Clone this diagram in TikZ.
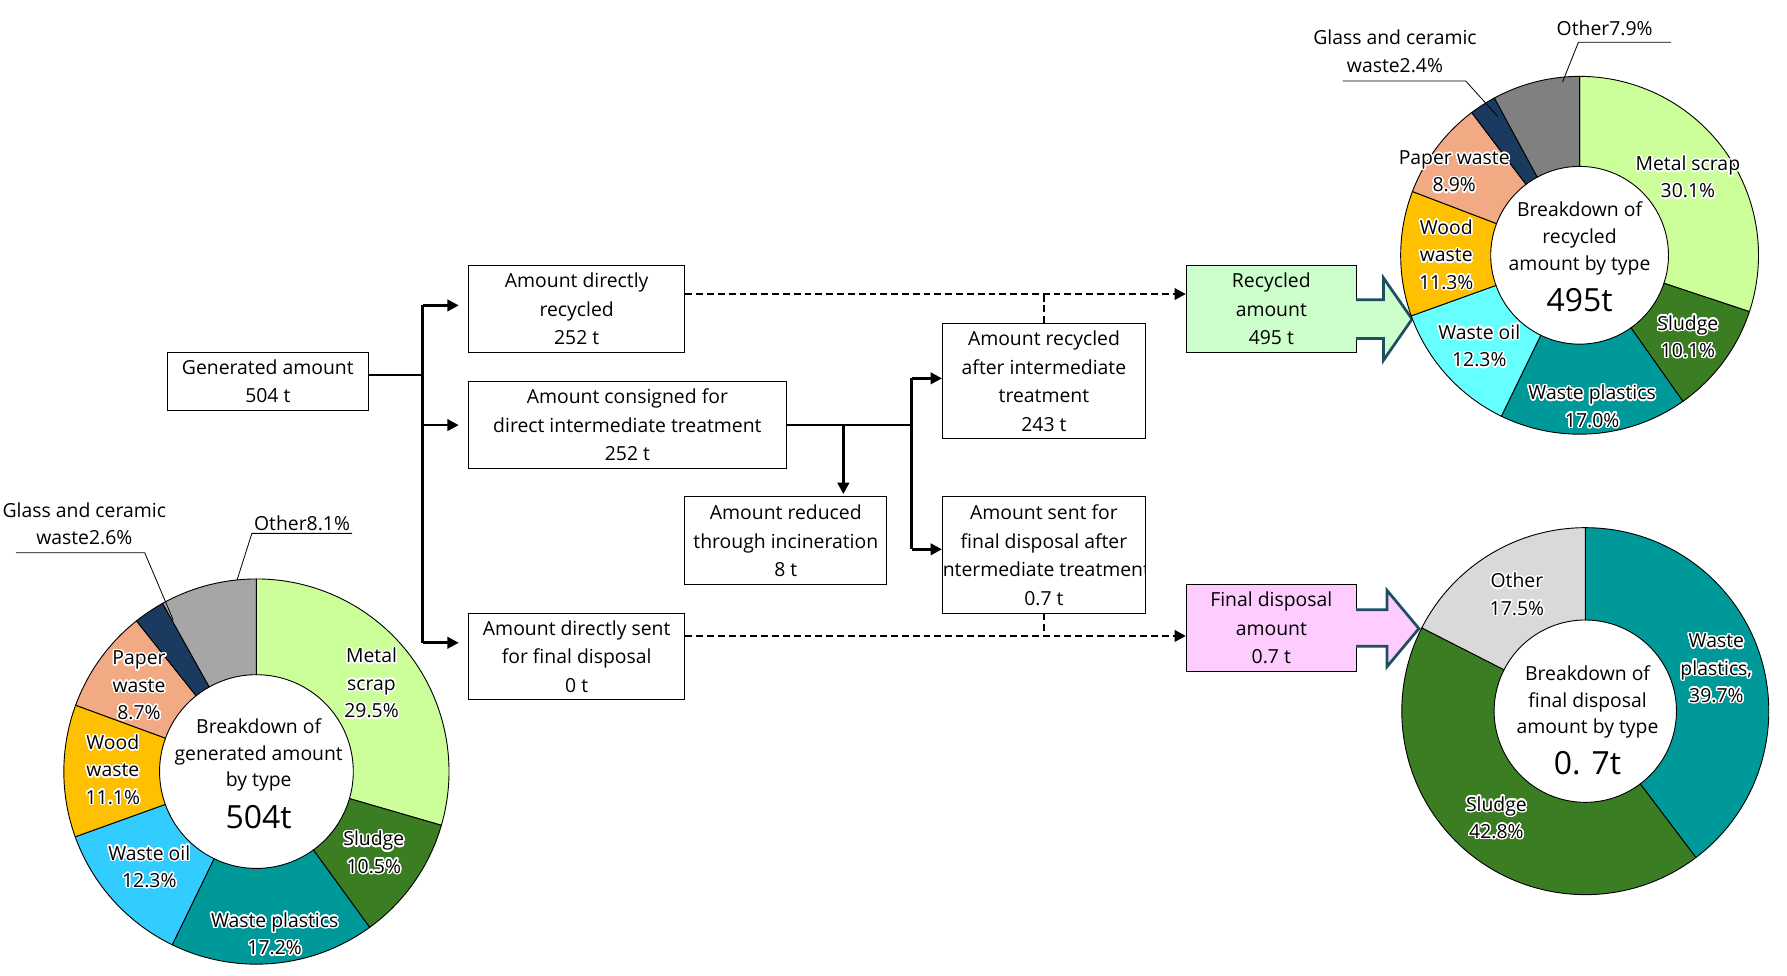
\documentclass[tikz,border=0pt]{standalone}
\usepackage{fontspec}
\setmainfont{Open Sans}
\usepackage{contour}
\contourlength{1.3pt}
\contournumber{24}
\usetikzlibrary{arrows.meta}
\definecolor{cmetal}{HTML}{CCFF99}
\definecolor{csludge}{HTML}{3B7D23}
\definecolor{cplast}{HTML}{009999}
\definecolor{coilA}{HTML}{33CCFF}
\definecolor{coilB}{HTML}{66FFFF}
\definecolor{cwood}{HTML}{FFC000}
\definecolor{cpaper}{HTML}{F2AA84}
\definecolor{cglass}{HTML}{1A3A5F}
\definecolor{cotherA}{HTML}{A6A6A6}
\definecolor{cotherB}{HTML}{808080}
\definecolor{cotherC}{HTML}{D9D9D9}
\definecolor{crec}{HTML}{CCFFCC}
\definecolor{cfin}{HTML}{FFCCFF}
\definecolor{carrow}{HTML}{1F4E61}
\newcommand\gl[1]{\contour{white}{#1}}
% slice: start pct, end pct, R, r, colour (inside a shifted scope)
\newcommand\dslice[5]{%
  \filldraw[fill=#5,draw=black,line width=0.8pt]
    ({-90+3.6*#1}:#3) arc[start angle={-90+3.6*#1},end angle={-90+3.6*#2},radius=#3]
    -- ({-90+3.6*#2}:#4) arc[start angle={-90+3.6*#2},end angle={-90+3.6*#1},radius=#4] -- cycle;}
\begin{document}
\begin{tikzpicture}[x=1pt,y=-1pt,
  box/.style={draw=black,line width=0.9pt,align=center,inner sep=0pt,font=\fontsize{17}{25}\selectfont},
  conn/.style={line width=2.4pt},
  arr/.style={conn,-{Triangle[length=10pt,width=10pt]}},
  dsh/.style={line width=2.3pt,dash pattern=on 6pt off 3.5pt},
  lbl/.style={align=center,inner sep=0pt,font=\fontsize{17}{24}\selectfont},
  ctr/.style={align=center,inner sep=0pt,font=\fontsize{17}{23.5}\selectfont},
  big/.style={inner sep=0pt,font=\fontsize{28}{30}\selectfont},
  lead/.style={line width=0.7pt},
  block/.style={draw=carrow,line width=2.4pt,line join=miter}]
\useasboundingbox (0,0) rectangle (1568,856);

% ---------- flow boxes ----------
\node[box,minimum width=176,minimum height=51] (b1) at (235,334.5) {Generated amount\\504 t};
\node[box,minimum width=190,minimum height=76] (b2) at (506,271) {Amount directly\\recycled\\252 t};
\node[box,minimum width=279,minimum height=76] (b3) at (550.5,373) {Amount consigned for\\direct intermediate treatment\\252 t};
\node[box,minimum width=190,minimum height=76] (b4) at (506,576) {Amount directly sent\\for final disposal\\0 t};
\node[box,minimum width=177,minimum height=77] (b5) at (689.5,474.5) {Amount reduced\\through incineration\\8 t};
\node[box,minimum width=178,minimum height=101] (b6) at (916,334.5) {Amount recycled\\after intermediate\\treatment\\243 t};
\node[box,minimum width=178,minimum height=102] (b7) at (916,487) {};
\begin{scope}
  \clip (b7.south west) rectangle (b7.north east);
  \node[box,draw=none] (b7t) at (b7.center) {Amount sent for\\final disposal after\\intermediate treatment\\0.7 t};
\end{scope}
\node[box,fill=crec,minimum width=149,minimum height=76] (b8) at (1115.5,271) {Recycled\\amount\\495 t};
\node[box,fill=cfin,minimum width=149,minimum height=76] (b9) at (1115.5,551) {Final disposal\\amount\\0.7 t};

% ---------- connectors ----------
\coordinate (j1) at (371,329);
\coordinate (bt) at (371,268);
\coordinate (bm) at (371,373);
\coordinate (bb) at (371,564);
\draw[conn] (b1.east |- j1) -- (j1);
\draw[conn] (bt) -- (bb);
\draw[arr,shorten >=8pt] (bt) -- (b2.west |- bt);
\draw[arr,shorten >=8pt] (bm) -- (b3.west |- bm);
\draw[arr,shorten >=8pt] (bb) -- (b4.west |- bb);

\coordinate (j2) at (740,373);
\coordinate (j3) at (800,373);
\coordinate (k1) at (800,332);
\coordinate (k2) at (800,482);
\draw[conn] (b3.east) -- (j3);
\draw[arr,shorten >=2pt] (j2) -- (b5.north -| j2);
\draw[conn] (k1) -- (k2);
\draw[arr] (k1) -- (b6.west |- k1);
\draw[arr] (k2) -- (b7.west |- k2);

\coordinate (d1) at (700,258);
\coordinate (d2) at (700,558);
\draw[dsh,-{Triangle[length=10pt,width=10pt]}] (b2.east |- d1) -- (b8.west |- d1);
\draw[dsh] (b6.north) -- (b6.north |- d1);
\draw[dsh,-{Triangle[length=10pt,width=10pt]}] (b4.east |- d2) -- (b9.west |- d2);
\draw[dsh] (b7.south) -- (b7.south |- d2);

% ---------- block arrows ----------
\filldraw[block,fill=crec] (1190,263) -- (1214,263) -- (1214,244) -- (1239,280) -- (1214,316) -- (1214,297) -- (1190,297);
\filldraw[block,fill=cfin] (1190,535) -- (1217,535) -- (1217,518) -- (1245,551.5) -- (1217,585) -- (1217,567) -- (1190,567);

% ---------- donut: generated ----------
\begin{scope}[shift={(225,677)}]
  \dslice{0}{29.5}{169}{85}{cmetal}
  \dslice{29.5}{40.0}{169}{85}{csludge}
  \dslice{40.0}{57.2}{169}{85}{cplast}
  \dslice{57.2}{69.5}{169}{85}{coilA}
  \dslice{69.5}{80.6}{169}{85}{cwood}
  \dslice{80.6}{89.3}{169}{85}{cpaper}
  \dslice{89.3}{91.9}{169}{85}{cglass}
  \dslice{91.9}{100}{169}{85}{cotherA}
\end{scope}
\node[lbl] (l1a) at (326,600) {\gl{Metal}\\\gl{scrap}\\\gl{29.5\%}};
\node[lbl] (l1b) at (328,748.5) {\gl{Sludge}\\\gl{10.5\%}};
\node[lbl] (l1c) at (241,820) {\gl{Waste plastics}\\\gl{17.2\%}};
\node[lbl] (l1d) at (131,761) {\gl{Waste oil}\\\gl{12.3\%}};
\node[lbl] (l1e) at (99,676) {\gl{Wood}\\\gl{waste}\\\gl{11.1\%}};
\node[lbl] (l1f) at (122,602) {\gl{Paper}\\\gl{waste}\\\gl{8.7\%}};
\node[lbl] (l1g) at (74,459.5) {Glass and ceramic\\waste2.6\%};
\node[lbl] (l1h) at (265,459) {Other8.1\%};
\coordinate (g1a) at (14,485);
\coordinate (g1b) at (127,485);
\coordinate (g1c) at (152,544);
\draw[lead] (g1a) -- (g1b) -- (g1c);
\coordinate (o1a) at (309,468);
\coordinate (o1b) at (221,468);
\coordinate (o1c) at (208,509);
\draw[lead] (o1a) -- (o1b) -- (o1c);
\node[ctr] (c1) at (227,662.5) {Breakdown of\\generated amount\\by type};
\node[big] (n1) at (227,717) {504t};

% ---------- donut: recycled ----------
\begin{scope}[shift={(1386,224)}]
  \dslice{0}{30.1}{157}{78}{cmetal}
  \dslice{30.1}{40.2}{157}{78}{csludge}
  \dslice{40.2}{57.2}{157}{78}{cplast}
  \dslice{57.2}{69.5}{157}{78}{coilB}
  \dslice{69.5}{80.8}{157}{78}{cwood}
  \dslice{80.8}{89.7}{157}{78}{cpaper}
  \dslice{89.7}{92.1}{157}{78}{cglass}
  \dslice{92.1}{100}{157}{78}{cotherB}
\end{scope}
\node[lbl] (l2a) at (1481,156) {\gl{Metal scrap}\\\gl{30.1\%}};
\node[lbl] (l2b) at (1481,296) {\gl{Sludge}\\\gl{10.1\%}};
\node[lbl] (l2c) at (1397,357) {\gl{Waste plastics}\\\gl{17.0\%}};
\node[lbl] (l2d) at (1298,304) {\gl{Waste oil}\\\gl{12.3\%}};
\node[lbl] (l2e) at (1269,224) {\gl{Wood}\\\gl{waste}\\\gl{11.3\%}};
\node[lbl] (l2f) at (1276,151) {\gl{Paper waste}\\\gl{8.9\%}};
\node[lbl] (l2g) at (1224,45) {Glass and ceramic\\waste2.4\%};
\node[lbl] (l2h) at (1408,25) {Other7.9\%};
\coordinate (g2a) at (1178,71);
\coordinate (g2b) at (1286,71);
\coordinate (g2c) at (1314,102);
\draw[lead] (g2a) -- (g2b) -- (g2c);
\coordinate (o2a) at (1466,37);
\coordinate (o2b) at (1385,37);
\coordinate (o2c) at (1371,72);
\draw[lead] (o2a) -- (o2b) -- (o2c);
\node[ctr] (c2) at (1386,209) {Breakdown of\\recycled\\amount by type};
\node[big] (n2) at (1386,263) {495t};

% ---------- donut: final disposal ----------
\begin{scope}[shift={(1391,624)}]
  \dslice{0}{39.7}{161}{80}{cplast}
  \dslice{39.7}{82.5}{161}{80}{csludge}
  \dslice{82.5}{100}{161}{80}{cotherC}
\end{scope}
\node[lbl] (l3a) at (1506,587) {\gl{Waste}\\\gl{plastics,}\\\gl{39.7\%}};
\node[lbl] (l3b) at (1313,718) {\gl{Sludge}\\\gl{42.8\%}};
\node[lbl] (l3c) at (1331,522) {\gl{Other}\\\gl{17.5\%}};
\node[ctr] (c3) at (1393,616) {Breakdown of\\final disposal\\amount by type};
\node[big] (n3) at (1393,670) {0. 7t};
\end{tikzpicture}
\end{document}
